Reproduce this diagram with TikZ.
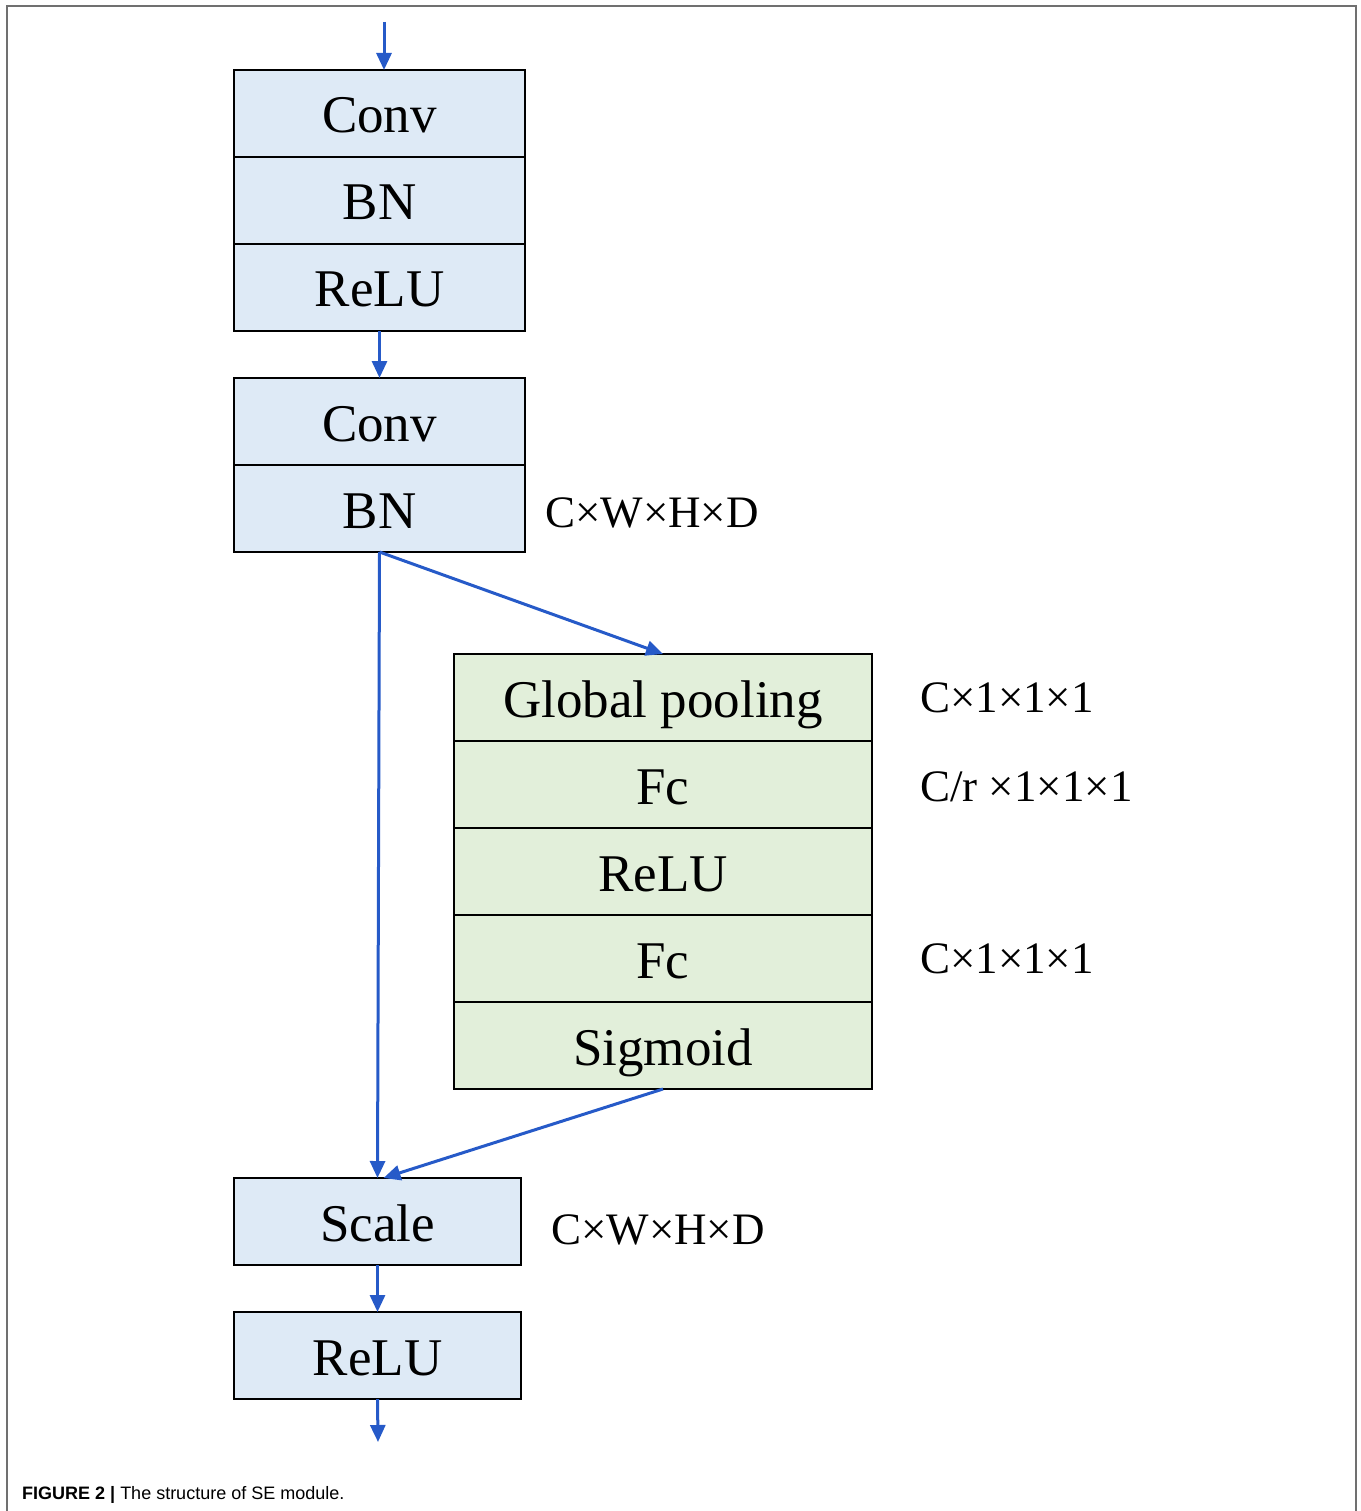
\documentclass[tikz,border=0pt]{standalone}
\usepackage{fontspec}
\setmainfont{Liberation Serif}
\newfontfamily\capfont{Liberation Sans}
\usetikzlibrary{arrows.meta, positioning}
\definecolor{seBlue}{RGB}{38, 90, 200}
\definecolor{seFillB}{RGB}{222, 234, 246}
\definecolor{seFillG}{RGB}{226, 239, 218}
\definecolor{seFrame}{RGB}{112, 112, 112}

\begin{document}
\begin{tikzpicture}[x=1pt, y=-1pt,
    layer/.style={draw=black, line width=2pt, inner sep=0pt, outer sep=0pt,
        minimum height=87pt, text height=40pt, text depth=1pt,
        font=\fontsize{53}{60}\selectfont},
    blulayer/.style={layer, fill=seFillB, minimum width=291pt},
    grnlayer/.style={layer, fill=seFillG, minimum width=418pt},
    dimlabel/.style={anchor=west, inner sep=0pt, font=\fontsize{45}{50}\selectfont},
    flow/.style={draw=seBlue, line width=3pt, -{Triangle[length=17pt, width=15pt]}}]
    \useasboundingbox (0,0) rectangle (1360,1511);
    \draw[seFrame, line width=2pt] (7,1511) -- (7,6) -- (1356,6) -- (1356,1511);
    % first conv block
    \node[blulayer, anchor=north west] (conva) at (234,70) {Conv};
    \node[blulayer, below=0pt of conva] (bna) {BN};
    \node[blulayer, below=0pt of bna] (relua) {ReLU};
    % second conv block
    \node[blulayer, below=47pt of relua] (convb) {Conv};
    \node[blulayer, below=0pt of convb] (bnb) {BN};
    \node[dimlabel, right=20pt of bnb, yshift=-4pt] (dimb) {C×W×H×D};
    % squeeze and excitation
    \node[grnlayer, anchor=north west] (gpool) at (454,654) {Global pooling};
    \node[grnlayer, below=0pt of gpool] (fca) {Fc};
    \node[grnlayer, below=0pt of fca] (relus) {ReLU};
    \node[grnlayer, below=0pt of relus] (fcb) {Fc};
    \node[grnlayer, below=0pt of fcb] (sigm) {Sigmoid};
    \node[dimlabel, right=48pt of gpool] (dimg) {C×1×1×1};
    \node[dimlabel, right=48pt of fca, yshift=-2pt] (dimfa) {C/r ×1×1×1};
    \node[dimlabel, right=48pt of fcb] (dimfb) {C×1×1×1};
    % scale and output
    \node[blulayer, minimum width=287pt, anchor=north west] (scale) at (234,1178) {Scale};
    \node[dimlabel, right=30pt of scale, yshift=-8pt] (dims) {C×W×H×D};
    \node[blulayer, minimum width=287pt, below=47pt of scale] (reluo) {ReLU};
    \coordinate (in) at (384,22);
    \coordinate (out) at (378,1442);
    \draw[flow] (in) -- (conva.north -| in);
    \draw[flow] (relua.south) -- (convb.north);
    \draw[flow] (bnb.south) -- (gpool.north);
    \draw[flow] (bnb.south) -- (scale.north);
    \draw[flow] (sigm.south) -- ([xshift=6pt]scale.north);
    \draw[flow] (scale.south) -- (reluo.south |- reluo.north);
    \draw[flow] (reluo.south) -- (out);
    \node[anchor=base west, inner sep=0pt, font=\capfont\fontsize{18}{20}\selectfont] (caption) at (22,1499)
        {\textbf{FIGURE 2 |} The structure of SE module.};
\end{tikzpicture}
\end{document}
